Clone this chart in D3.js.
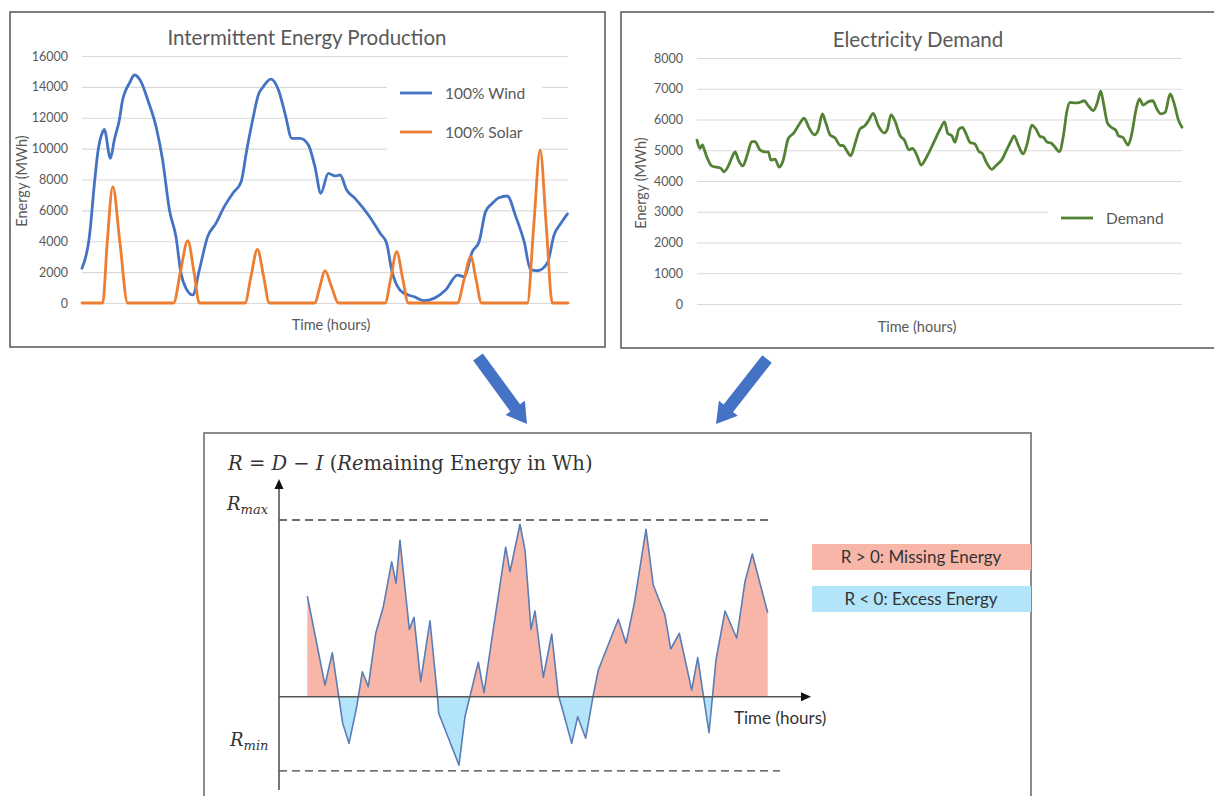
<!DOCTYPE html>
<html>
<head>
<meta charset="utf-8">
<script src="https://cdn.jsdelivr.net/npm/d3@7"></script>
<style>
  body { margin: 0; background: #fff; }
  text { font-family: Lato, "Open Sans", sans-serif; }
</style>
</head>
<body>
<svg id="fig" width="1214" height="796"></svg>
<script>
// values: [hour, MWh]
const wind = [[0,2250],[2.5,4300],[4.2,7760],[5.3,9700],[7.0,11100],[7.5,11250],[9.6,9370],[10.9,10560],[12.6,11860],[13.7,13150],[14.8,13800],[16.0,14240],[17.7,14770],[19.9,14340],[22.2,13150],[25.0,11420],[27.2,9270],[29.5,6030],[31.7,4300],[33.4,1920],[35.1,950],[37.4,520],[39.6,2140],[42.4,4300],[45.2,5160],[48.0,6240],[50.9,7110],[53.7,7860],[55.6,9910],[57.8,12070],[59.5,13480],[61.2,14020],[63.7,14500],[66.3,13800],[68.5,12290],[70.8,10670],[73.6,10670],[76.4,10240],[78.6,8830],[80.6,7110],[83.1,8400],[85.4,8230],[87.1,8290],[89.3,7320],[92.1,6780],[94.9,6140],[97.8,5380],[100.6,4520],[102.8,3870],[104.5,2140],[107.3,840],[110.1,520],[112.0,410],[115.4,150],[118.8,300],[122.7,840],[126.7,1810],[128.9,1700],[131.7,3320],[134.0,3970],[136.2,5920],[138.5,6460],[140.7,6820],[143.5,6930],[146.4,5590],[149.2,3970],[151.4,2140],[153.7,2090],[157.0,2570],[159.3,4410],[161.6,5160],[163.8,5770]];

const solar = [[0,0],[7.0,0],[8.5,3900],[10.4,7540],[12.8,3900],[15.4,0],[30.9,0],[33.2,2000],[35.7,4040],[37.8,2000],[39.6,0],[55.0,0],[57.0,1700],[59.2,3480],[61.3,1700],[63.2,0],[78.6,0],[80.2,1000],[82.0,2090],[84.3,1000],[86.5,0],[102.3,0],[104.2,1600],[106.2,3320],[108.2,1600],[110.1,0],[126.7,0],[128.9,1500],[131.2,3000],[133.0,1500],[134.8,0],[150.3,0],[152.4,4900],[154.6,9910],[156.7,4900],[158.7,0],[164,0]];

const demand = [[0,5330],[1.0,5060],[1.8,5170],[2.5,5010],[3.3,4790],[5.0,4490],[6.7,4450],[8.1,4410],[9.1,4300],[10.6,4490],[11.7,4740],[12.9,4950],[14.0,4680],[15.5,4490],[17.0,4850],[18.5,5280],[19.6,5280],[21.3,5010],[23.0,4950],[24.1,4950],[25.0,4680],[26.4,4710],[27.8,4450],[29.0,4630],[30.9,5390],[32.6,5550],[33.7,5710],[34.8,5880],[36.2,6040],[38.0,5710],[39.7,5500],[41.0,5660],[42.4,6180],[43.6,5880],[45.0,5500],[46.7,5400],[48.4,5160],[49.5,5150],[50.6,4990],[52.0,4820],[53.4,5200],[55.1,5690],[56.8,5800],[58.0,5960],[59.6,6200],[61.3,5800],[63.3,5560],[64.4,5690],[65.6,6150],[66.9,5960],[68.7,5470],[70.1,5330],[71.7,5010],[72.8,5060],[74.3,4850],[75.8,4520],[77.7,4790],[79.4,5120],[81.1,5470],[82.5,5740],[83.7,5920],[84.8,5550],[86.2,5470],[87.2,5260],[88.6,5690],[89.7,5740],[91.0,5530],[92.3,5260],[94.0,5200],[95.4,4950],[96.3,4910],[98.0,4580],[99.7,4380],[101.3,4520],[103.0,4680],[104.7,5010],[106.2,5300],[107.2,5470],[108.7,5150],[110.3,4880],[111.7,5230],[113.2,5820],[114.6,5690],[116.0,5450],[117.1,5420],[118.5,5260],[119.6,5240],[121.1,5100],[122.5,4950],[123.9,5470],[125.0,6230],[126.1,6560],[127.8,6540],[129.5,6560],[130.9,6610],[132.3,6450],[134.0,6290],[135.4,6560],[136.5,6920],[137.6,6450],[138.8,5880],[140.2,5740],[141.7,5640],[142.5,5470],[144.0,5420],[145.8,5170],[147.0,5530],[148.5,6340],[149.6,6670],[150.9,6470],[152.6,6580],[154.1,6610],[155.5,6340],[156.9,6180],[158.3,6230],[160.0,6830],[161.4,6500],[162.8,5980],[164.0,5750]];

// remaining energy, sketch units (Rmax = 10)
const remaining = [[0,5.70],[3.84,0.66],[5.43,2.49],[7.69,-1.51],[9.06,-2.64],[10.73,-0.57],[11.95,1.41],[13.25,0.57],[14.86,3.59],[16.51,5.09],[18.33,7.64],[19.27,6.42],[20.13,8.87],[22.16,3.81],[23.18,4.49],[24.63,0.85],[26.65,4.30],[28.24,0.10],[28.54,-0.94],[32.95,-3.87],[34.25,-1.13],[37.14,1.95],[38.38,0.23],[40.05,3.21],[41.36,5.47],[43.09,8.46],[44.03,7.07],[46.20,9.76],[47.29,8.30],[48.59,3.81],[49.46,4.85],[51.26,1.10],[53.09,3.55],[54.52,0.10],[55.26,-0.57],[57.43,-2.64],[58.73,-1.13],[60.47,-2.35],[62.12,0.10],[63.21,1.51],[67.55,4.38],[69.22,3.02],[71.03,5.29],[73.57,9.47],[75.15,6.32],[77.69,4.62],[78.93,2.70],[80.80,3.59],[83.49,0.38],[84.80,2.21],[87.25,-2.04],[88.77,2.08],[90.73,4.85],[93.27,3.31],[95.07,6.51],[96.66,8.08],[100,4.75]];
const rLimits = [-4.2, 10];

const productionTicks = [0,2000,4000,6000,8000,10000,12000,14000,16000];
const demandTicks = [0,1000,2000,3000,4000,5000,6000,7000,8000];
const hoursSpan = [0, 164];

const svg = d3.select("#fig");
const grey = "#595959";

// panel frame + title + axis titles + gridlines
function drawPanel(o) {
    const g = svg.append("g");
    g.append("rect")
        .attr("x", o.box[0]).attr("y", o.box[1])
        .attr("width", o.box[2]).attr("height", o.box[3])
        .attr("fill", "#fff").attr("stroke", "#5f5f5f").attr("stroke-width", 1.6);

    const x = d3.scaleLinear().domain(hoursSpan).range(o.xr);
    const y = d3.scaleLinear().domain([0, d3.max(o.ticks)]).range(o.yr);

    const ax = g.append("g")
        .attr("transform", `translate(${o.xr[0]},0)`)
        .call(d3.axisLeft(y).tickValues(o.ticks).tickFormat(d3.format("d"))
            .tickSize(-(o.xr[1] - o.xr[0])).tickPadding(14));
    ax.select(".domain").remove();
    ax.selectAll(".tick line").attr("stroke", "#d9d9d9").attr("stroke-width", 1.2);
    ax.selectAll(".tick text").attr("fill", grey).attr("font-size", 12.5)
        .style("font-family", "Lato, sans-serif");

    g.append("text").attr("x", o.titleX).attr("y", o.titleY)
        .attr("text-anchor", "middle").attr("font-size", 20.5).attr("fill", grey)
        .text(o.title);
    g.append("text").attr("x", o.timeX).attr("y", o.timeY)
        .attr("text-anchor", "middle").attr("font-size", 14.5).attr("fill", grey)
        .text("Time (hours)");
    g.append("text")
        .attr("transform", `translate(${o.energyX},${o.energyY}) rotate(-90)`)
        .attr("text-anchor", "middle").attr("font-size", 14.5).attr("fill", grey)
        .text("Energy (MWh)");

    // legend box sits over the gridlines
    g.append("rect").attr("x", o.legend[0]).attr("y", o.legend[1])
        .attr("width", o.legend[2]).attr("height", o.legend[3]).attr("fill", "#fff");
    return { g, x, y };
}

function addSeries(p, data, color) {
    const line = d3.line()
        .x(d => p.x(d[0])).y(d => p.y(d[1]))
        .curve(d3.curveMonotoneX);
    p.g.append("path").datum(data)
        .attr("d", line).attr("fill", "none")
        .attr("stroke", color).attr("stroke-width", 2.8)
        .attr("stroke-linejoin", "round").attr("stroke-linecap", "round");
}

function legendItem(p, lx, ly, color, label) {
    p.g.append("line").attr("x1", lx).attr("x2", lx + 32).attr("y1", ly).attr("y2", ly)
        .attr("stroke", color).attr("stroke-width", 2.8);
    p.g.append("text").attr("x", lx + 45).attr("y", ly + 5.5)
        .attr("font-size", 15.5).attr("fill", grey).text(label);
}

// --- production panel
const prod = drawPanel({
    box: [10, 12, 595, 335], xr: [82, 568], yr: [303, 56], ticks: productionTicks,
    title: "Intermittent Energy Production", titleX: 307, titleY: 45,
    timeX: 331, timeY: 330, energyX: 27, energyY: 181,
    legend: [387, 72, 155, 80]
});
addSeries(prod, wind, "#4472c4");
addSeries(prod, solar, "#ed7d31");
legendItem(prod, 400, 93, "#4472c4", "100% Wind");
legendItem(prod, 400, 132, "#ed7d31", "100% Solar");

// --- demand panel
const dem = drawPanel({
    box: [621, 12, 600, 336], xr: [697, 1182], yr: [304, 58], ticks: demandTicks,
    title: "Electricity Demand", titleX: 918, titleY: 47,
    timeX: 917, timeY: 332, energyX: 646, energyY: 183,
    legend: [1048, 202, 140, 30]
});
addSeries(dem, demand, "#548235");
legendItem(dem, 1061, 218, "#548235", "Demand");

// --- connecting arrows
function blockArrow(x1, y1, x2, y2) {
    const a = Math.atan2(y2 - y1, x2 - x1), len = Math.hypot(x2 - x1, y2 - y1);
    const sw = 6, hw = 12, hl = 20;
    const pts = [[0,-sw],[len-hl,-sw],[len-hl,-hw],[len,0],[len-hl,hw],[len-hl,sw],[0,sw]];
    svg.append("polygon")
        .attr("points", pts.map(p => p.join(",")).join(" "))
        .attr("transform", `translate(${x1},${y1}) rotate(${a * 180 / Math.PI})`)
        .attr("fill", "#4472c4");
}
blockArrow(478, 357, 527, 424);
blockArrow(767, 359, 716, 424);

// --- remaining energy panel
const bot = svg.append("g");
bot.append("rect").attr("x", 204).attr("y", 433).attr("width", 827).attr("height", 380)
    .attr("fill", "#fff").attr("stroke", "#6f6f6f").attr("stroke-width", 1.6);

const rx = d3.scaleLinear().domain([0, 100]).range([307.3, 767.7]);
const ry = d3.scaleLinear().domain([0, rLimits[1]]).range([696.7, 520]);
const zeroY = ry(0);

const defs = svg.append("defs");
defs.append("clipPath").attr("id", "above").append("rect")
    .attr("x", 0).attr("y", 0).attr("width", 1214).attr("height", zeroY);
defs.append("clipPath").attr("id", "below").append("rect")
    .attr("x", 0).attr("y", zeroY).attr("width", 1214).attr("height", 796 - zeroY);

const rArea = d3.area().x(d => rx(d[0])).y0(zeroY).y1(d => ry(d[1]));
bot.append("path").datum(remaining).attr("d", rArea)
    .attr("fill", "#f7b6a8").attr("clip-path", "url(#above)");
bot.append("path").datum(remaining).attr("d", rArea)
    .attr("fill", "#b3e5fa").attr("clip-path", "url(#below)");
bot.append("path").datum(remaining)
    .attr("d", d3.line().x(d => rx(d[0])).y(d => ry(d[1])))
    .attr("fill", "none").attr("stroke", "#5b7db5").attr("stroke-width", 1.6)
    .attr("stroke-linejoin", "round");

// limit lines
bot.append("line").attr("x1", 279).attr("x2", 768).attr("y1", ry(rLimits[1])).attr("y2", ry(rLimits[1]))
    .attr("stroke", "#404040").attr("stroke-width", 1.4).attr("stroke-dasharray", "8,5");
bot.append("line").attr("x1", 279).attr("x2", 780).attr("y1", ry(rLimits[0])).attr("y2", ry(rLimits[0]))
    .attr("stroke", "#404040").attr("stroke-width", 1.4).attr("stroke-dasharray", "8,5");

// axes with arrow heads
bot.append("line").attr("x1", 279).attr("x2", 279).attr("y1", 790).attr("y2", 486)
    .attr("stroke", "#555").attr("stroke-width", 1.6);
bot.append("polygon").attr("points", "279,479 274.5,489 283.5,489").attr("fill", "#111");
bot.append("line").attr("x1", 279).attr("x2", 803).attr("y1", zeroY).attr("y2", zeroY)
    .attr("stroke", "#555").attr("stroke-width", 1.6);
bot.append("polygon").attr("points", `811,${zeroY} 801,${zeroY - 4.5} 801,${zeroY + 4.5}`).attr("fill", "#111");

bot.append("text").attr("x", 734).attr("y", 724).attr("font-size", 17)
    .attr("fill", "#333").style("font-family", "Lato, sans-serif").text("Time (hours)");

// title in math style
const title = bot.append("text").attr("x", 228).attr("y", 470)
    .attr("font-size", 19.5).attr("fill", "#333")
    .style("font-family", "'DejaVu Serif', serif");
[["R", true], [" = ", false], ["D", true], [" − ", false], ["I", true],
 [" (", false], ["Re", true], ["maining Energy in Wh)", false]].forEach(([s, it]) => {
    title.append("tspan").attr("font-style", it ? "italic" : "normal")
        .attr("xml:space", "preserve").text(s);
});

function rLabel(xp, yp, sub) {
    const t = bot.append("text").attr("x", xp).attr("y", yp)
        .attr("font-size", 18).attr("fill", "#333").attr("font-style", "italic")
        .style("font-family", "'DejaVu Serif', serif");
    t.append("tspan").text("R");
    t.append("tspan").attr("dy", 4).attr("font-size", 13).text(sub);
}
rLabel(227, 510, "max");
rLabel(230, 746, "min");

// colour key
function keyBox(yp, fill, label) {
    bot.append("rect").attr("x", 812).attr("y", yp).attr("width", 219).attr("height", 26).attr("fill", fill);
    bot.append("text").attr("x", 921).attr("y", yp + 19).attr("text-anchor", "middle")
        .attr("font-size", 17).attr("fill", "#333").style("font-family", "Lato, sans-serif")
        .text(label);
}
keyBox(544, "#f7b6a8", "R > 0: Missing Energy");
keyBox(586, "#b3e5fa", "R < 0: Excess Energy");
</script>
</body>
</html>
